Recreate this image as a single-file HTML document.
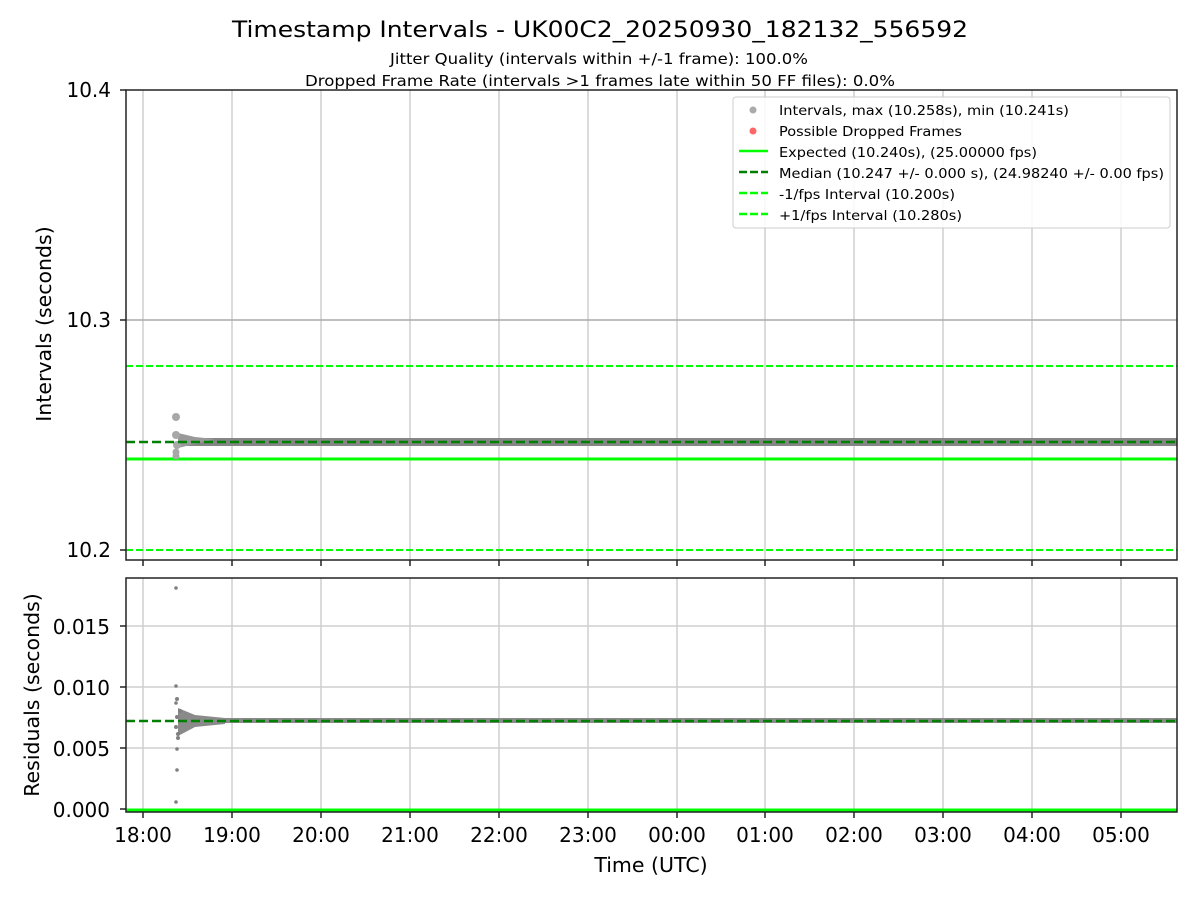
<!DOCTYPE html>
<html><head><meta charset="utf-8"><style>html,body{margin:0;padding:0;background:#fff}svg{display:block}</style></head>
<body>
<svg width="1200" height="900" xmlns="http://www.w3.org/2000/svg" font-family="DejaVu Sans, Liberation Sans, sans-serif">
<rect width="1200" height="900" fill="#fff"/>
<text x="600" y="37" font-size="22" text-anchor="middle" textLength="736" lengthAdjust="spacingAndGlyphs">Timestamp Intervals - UK00C2_20250930_182132_556592</text>
<text x="599" y="64" font-size="15" text-anchor="middle" textLength="418" lengthAdjust="spacingAndGlyphs">Jitter Quality (intervals within +/-1 frame): 100.0%</text>
<text x="600" y="86" font-size="15" text-anchor="middle" textLength="590" lengthAdjust="spacingAndGlyphs">Dropped Frame Rate (intervals &gt;1 frames late within 50 FF files): 0.0%</text>

<g stroke="#cfcfcf" stroke-width="1.5">
<line x1="143" y1="90" x2="143" y2="560"/><line x1="232" y1="90" x2="232" y2="560"/><line x1="321" y1="90" x2="321" y2="560"/><line x1="410" y1="90" x2="410" y2="560"/><line x1="499" y1="90" x2="499" y2="560"/><line x1="588" y1="90" x2="588" y2="560"/><line x1="677" y1="90" x2="677" y2="560"/><line x1="765" y1="90" x2="765" y2="560"/><line x1="854" y1="90" x2="854" y2="560"/><line x1="943" y1="90" x2="943" y2="560"/><line x1="1032" y1="90" x2="1032" y2="560"/><line x1="1121" y1="90" x2="1121" y2="560"/>
<line x1="126" y1="320" x2="1177" y2="320" stroke="#aaa"/>
</g>
<line x1="126" y1="366" x2="1177" y2="366" stroke="#00ff00" stroke-width="2" stroke-dasharray="7,3"/>
<line x1="126" y1="550" x2="1177" y2="550" stroke="#00ff00" stroke-width="2" stroke-dasharray="7,3"/>
<line x1="126" y1="459" x2="1177" y2="459" stroke="#00ff00" stroke-width="3"/>
<rect x="178" y="438" width="999" height="8" fill="#858585"/>
<path d="M178 433 L195 437 L215 439 L178 448 Z" fill="#999"/>
<g fill="#a8a8a8"><circle cx="176" cy="417" r="4"/><circle cx="176" cy="435" r="4"/><circle cx="177" cy="445" r="4"/><circle cx="176" cy="452" r="3.5"/><circle cx="176" cy="456" r="3.5"/></g>
<line x1="126" y1="442" x2="1177" y2="442" stroke="#007f00" stroke-width="2.5" stroke-dasharray="9,4"/>
<rect x="126" y="90" width="1051" height="470" fill="none" stroke="#222" stroke-width="1.5"/>
<g stroke="#222" stroke-width="1.5"><line x1="120" y1="90" x2="126" y2="90"/><line x1="120" y1="320" x2="126" y2="320"/><line x1="120" y1="550" x2="126" y2="550"/>
<line x1="143" y1="560" x2="143" y2="566"/><line x1="232" y1="560" x2="232" y2="566"/><line x1="321" y1="560" x2="321" y2="566"/><line x1="410" y1="560" x2="410" y2="566"/><line x1="499" y1="560" x2="499" y2="566"/><line x1="588" y1="560" x2="588" y2="566"/><line x1="677" y1="560" x2="677" y2="566"/><line x1="765" y1="560" x2="765" y2="566"/><line x1="854" y1="560" x2="854" y2="566"/><line x1="943" y1="560" x2="943" y2="566"/><line x1="1032" y1="560" x2="1032" y2="566"/><line x1="1121" y1="560" x2="1121" y2="566"/></g>
<g font-size="20" text-anchor="end"><text x="111" y="97">10.4</text><text x="111" y="327">10.3</text><text x="111" y="557">10.2</text></g>
<text transform="translate(51,324) rotate(-90)" font-size="20.5" text-anchor="middle">Intervals (seconds)</text>

<rect x="733" y="97" width="437" height="131" rx="3" fill="#fff" fill-opacity="0.85" stroke="#ccc" stroke-width="1"/>
<circle cx="753" cy="110" r="3.5" fill="#aaa"/>
<circle cx="753" cy="131" r="3.5" fill="#ff6666"/>
<line x1="739" y1="151" x2="768" y2="151" stroke="#00ff00" stroke-width="2.5"/>
<line x1="739" y1="172" x2="768" y2="172" stroke="#007f00" stroke-width="2.5" stroke-dasharray="8,3"/>
<line x1="739" y1="193" x2="768" y2="193" stroke="#00ff00" stroke-width="2.5" stroke-dasharray="8,3"/>
<line x1="739" y1="214" x2="768" y2="214" stroke="#00ff00" stroke-width="2.5" stroke-dasharray="8,3"/>
<g font-size="13.5">
<text x="779" y="115" textLength="290" lengthAdjust="spacingAndGlyphs">Intervals, max (10.258s), min (10.241s)</text>
<text x="779" y="136" textLength="183" lengthAdjust="spacingAndGlyphs">Possible Dropped Frames</text>
<text x="779" y="157" textLength="258" lengthAdjust="spacingAndGlyphs">Expected (10.240s), (25.00000 fps)</text>
<text x="779" y="178" textLength="385" lengthAdjust="spacingAndGlyphs">Median (10.247 +/- 0.000 s), (24.98240 +/- 0.00 fps)</text>
<text x="779" y="199" textLength="176" lengthAdjust="spacingAndGlyphs">-1/fps Interval (10.200s)</text>
<text x="779" y="220" textLength="183" lengthAdjust="spacingAndGlyphs">+1/fps Interval (10.280s)</text>
</g>

<g stroke="#cfcfcf" stroke-width="1.5">
<line x1="143" y1="578" x2="143" y2="812"/><line x1="232" y1="578" x2="232" y2="812"/><line x1="321" y1="578" x2="321" y2="812"/><line x1="410" y1="578" x2="410" y2="812"/><line x1="499" y1="578" x2="499" y2="812"/><line x1="588" y1="578" x2="588" y2="812"/><line x1="677" y1="578" x2="677" y2="812"/><line x1="765" y1="578" x2="765" y2="812"/><line x1="854" y1="578" x2="854" y2="812"/><line x1="943" y1="578" x2="943" y2="812"/><line x1="1032" y1="578" x2="1032" y2="812"/><line x1="1121" y1="578" x2="1121" y2="812"/>
<line x1="126" y1="626" x2="1177" y2="626"/><line x1="126" y1="687" x2="1177" y2="687"/><line x1="126" y1="748" x2="1177" y2="748"/>
</g>
<line x1="126" y1="810" x2="1177" y2="810" stroke="#00ff00" stroke-width="3"/>
<rect x="180" y="718" width="997" height="5" fill="#8a8a8a"/>
<path d="M178 708 L195 715 L225 718 L225 724 L195 727 L178 736 Z" fill="#8a8a8a"/>
<g fill="#808080"><circle cx="176" cy="588" r="1.8"/><circle cx="176" cy="686" r="1.8"/><circle cx="177" cy="699" r="2"/><circle cx="176" cy="703" r="1.8"/><circle cx="180" cy="711" r="2"/><circle cx="177" cy="717" r="2"/><circle cx="176" cy="727" r="2"/><circle cx="178" cy="734" r="2"/><circle cx="178" cy="738" r="2"/><circle cx="177" cy="749" r="1.8"/><circle cx="177" cy="770" r="1.8"/><circle cx="176" cy="802" r="1.8"/></g>
<line x1="126" y1="721" x2="1177" y2="721" stroke="#007f00" stroke-width="2.5" stroke-dasharray="9,4"/>
<rect x="126" y="578" width="1051" height="234" fill="none" stroke="#222" stroke-width="1.5"/>
<g stroke="#222" stroke-width="1.5"><line x1="120" y1="626" x2="126" y2="626"/><line x1="120" y1="687" x2="126" y2="687"/><line x1="120" y1="748" x2="126" y2="748"/><line x1="120" y1="809" x2="126" y2="809"/>
<line x1="143" y1="812" x2="143" y2="818"/><line x1="232" y1="812" x2="232" y2="818"/><line x1="321" y1="812" x2="321" y2="818"/><line x1="410" y1="812" x2="410" y2="818"/><line x1="499" y1="812" x2="499" y2="818"/><line x1="588" y1="812" x2="588" y2="818"/><line x1="677" y1="812" x2="677" y2="818"/><line x1="765" y1="812" x2="765" y2="818"/><line x1="854" y1="812" x2="854" y2="818"/><line x1="943" y1="812" x2="943" y2="818"/><line x1="1032" y1="812" x2="1032" y2="818"/><line x1="1121" y1="812" x2="1121" y2="818"/></g>
<g font-size="20" text-anchor="end"><text x="110" y="634">0.015</text><text x="110" y="695">0.010</text><text x="110" y="756">0.005</text><text x="110" y="817">0.000</text></g>
<g font-size="20" text-anchor="middle"><text x="143" y="842">18:00</text><text x="232" y="842">19:00</text><text x="321" y="842">20:00</text><text x="410" y="842">21:00</text><text x="499" y="842">22:00</text><text x="588" y="842">23:00</text><text x="677" y="842">00:00</text><text x="765" y="842">01:00</text><text x="854" y="842">02:00</text><text x="943" y="842">03:00</text><text x="1032" y="842">04:00</text><text x="1121" y="842">05:00</text></g>
<text x="651" y="872" font-size="20.5" text-anchor="middle">Time (UTC)</text>
<text transform="translate(39,695) rotate(-90)" font-size="20.5" text-anchor="middle">Residuals (seconds)</text>
</svg>
</body></html>
